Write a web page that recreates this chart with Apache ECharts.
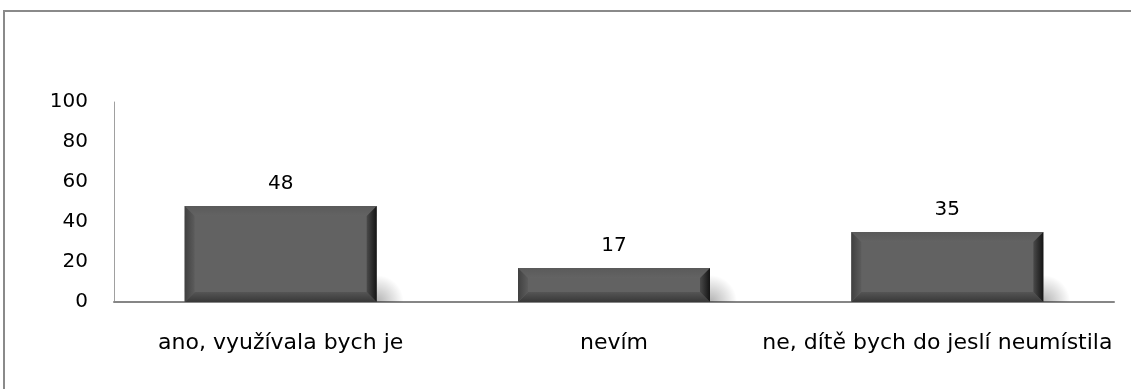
<!DOCTYPE html>
<html>
<head>
<meta charset="utf-8">
<script src="https://cdn.jsdelivr.net/npm/echarts@6/dist/echarts.min.js"></script>
<style>
  html, body { margin: 0; padding: 0; background: #fff; }
  #chart { width: 1131px; height: 389px; }
</style>
</head>
<body>
<div id="chart"></div>
<script>
// data
const categories = ['ano, využívala bych je', 'nevím', 'ne, dítě bych do jeslí neumístila']
const values = [48, 17, 35]
const yMin = 0
const yMax = 100
const yStep = 20

const fontFamily = '"DejaVu Sans", sans-serif'

let chart = echarts.init(document.getElementById('chart'))

// beveled bar with a soft shadow to the right
function renderBar (params, api) {
  let idx = api.value(0)
  let v = api.value(1)
  let top = api.coord([idx, v])
  let base = api.coord([idx, 0])
  let bw = api.size([1, 0])[0] * 0.576
  let x0 = top[0] - bw / 2
  let x1 = top[0] + bw / 2
  let y0 = top[1]
  let y1 = base[1]
  let b = Math.min(10, (y1 - y0) / 2)
  let lin = (x, y, x2, y2, a, c) => new echarts.graphic.LinearGradient(x, y, x2, y2, [
    { offset: 0, color: a }, { offset: 1, color: c }
  ])
  return {
    type: 'group',
    children: [
      {
        type: 'rect',
        shape: { x: x1 - 15, y: y1 - 36, width: 60, height: 36 },
        style: {
          fill: new echarts.graphic.RadialGradient(0.25, 1, 0.75, [
            { offset: 0, color: 'rgba(0,0,0,0.3)' },
            { offset: 1, color: 'rgba(0,0,0,0)' }
          ])
        }
      },
      {
        type: 'rect',
        shape: { x: x0, y: y0, width: x1 - x0, height: y1 - y0 },
        style: { fill: '#626262' }
      },
      {
        type: 'polygon',
        shape: { points: [[x0, y0], [x1, y0], [x1 - b, y0 + b], [x0 + b, y0 + b]] },
        style: { fill: lin(0, 0, 0, 1, '#5a5a5a', '#636363') }
      },
      {
        type: 'polygon',
        shape: { points: [[x0, y1], [x1, y1], [x1 - b, y1 - b], [x0 + b, y1 - b]] },
        style: { fill: lin(0, 1, 0, 0, '#383838', '#555555') }
      },
      {
        type: 'polygon',
        shape: { points: [[x0, y0], [x0 + b, y0 + b], [x0 + b, y1 - b], [x0, y1]] },
        style: { fill: lin(0, 0, 1, 0, '#404040', '#5c5c5c') }
      },
      {
        type: 'polygon',
        shape: { points: [[x1, y0], [x1 - b, y0 + b], [x1 - b, y1 - b], [x1, y1]] },
        style: { fill: lin(1, 0, 0, 0, '#141414', '#4a4a4a') }
      },
      {
        type: 'text',
        style: {
          text: String(v),
          x: top[0],
          y: y0 - 22,
          align: 'center',
          verticalAlign: 'middle',
          fill: '#000',
          font: '20px ' + fontFamily
        }
      }
    ]
  }
}

let option = {
  animation: false,
  backgroundColor: '#fff',
  textStyle: { fontFamily: fontFamily },
  graphic: [{
    type: 'polyline',
    shape: { points: [[4, 400], [4, 11], [1140, 11]] },
    style: { fill: 'none', stroke: '#8a8a8a', lineWidth: 2 },
    silent: true
  }],
  grid: { left: 114, right: 17, top: 102, bottom: 87 },
  xAxis: {
    type: 'category',
    data: categories,
    axisLine: { lineStyle: { color: '#868686', width: 2 } },
    axisTick: { show: false },
    axisLabel: {
      color: '#000',
      fontSize: 22,
      margin: 30,
      interval: 0,
      // last label is pushed left so it stays inside the plot
      formatter: function (val, i) {
        return i === categories.length - 1 ? '{last|' + val + '}' : val
      },
      rich: {
        last: { fontSize: 22, color: '#000', padding: [0, 20, 0, 0] }
      }
    }
  },
  yAxis: {
    type: 'value',
    min: yMin,
    max: yMax,
    interval: yStep,
    axisLine: { show: true, lineStyle: { color: '#a0a0a0', width: 1 } },
    axisTick: { show: false },
    splitLine: { show: false },
    axisLabel: { color: '#000', fontSize: 20, margin: 26 }
  },
  series: [{
    type: 'custom',
    renderItem: renderBar,
    encode: { x: 0, y: 1 },
    data: values.map((v, i) => [i, v]),
    z: 3
  }]
}

chart.setOption(option)
</script>
</body>
</html>
